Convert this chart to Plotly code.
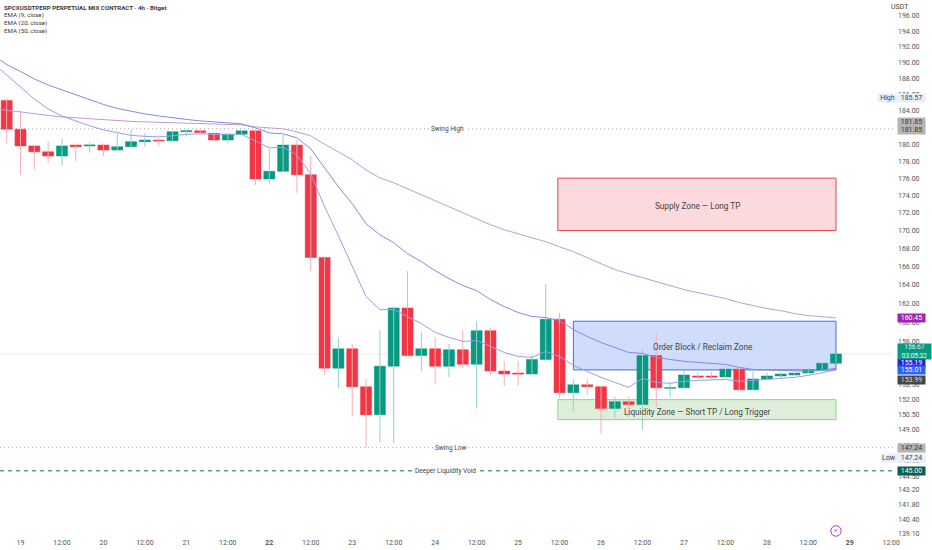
import math
import pandas as pd
import plotly.graph_objects as go

# 4h candles, 18 Dec 20:00 -> 28 Dec 20:00
open_ = [185.3, 181.8, 179.8, 179.1, 178.6, 179.9, 179.8, 179.9, 179.3, 179.7,
         180.3, 180.5, 180.4, 181.5, 181.6, 181.3, 180.5, 181.2, 181.6, 175.9,
         176.8, 179.9, 176.4, 167.0, 155.2, 157.2, 153.3, 150.5, 155.4, 161.5,
         156.5, 157.2, 155.4, 157.1, 155.6, 159.1, 154.9, 154.7, 154.6, 156.1,
         160.3, 152.7, 153.5, 153.3, 151.1, 151.8, 151.5, 156.5, 153.15, 153.2,
         154.4, 154.4, 154.3, 155.1, 153.0, 154.1, 154.4, 154.5, 154.7, 155.0, 155.7]
close = [181.8, 179.8, 179.1, 178.6, 179.8, 179.7, 179.9, 179.3, 179.7, 180.3,
         180.5, 180.4, 181.5, 181.6, 181.4, 180.5, 181.2, 181.6, 175.9, 176.8,
         179.9, 176.4, 167.0, 155.2, 157.2, 153.3, 150.5, 155.4, 161.5, 156.5,
         157.2, 155.4, 157.1, 155.6, 159.1, 154.9, 154.6, 154.6, 156.1, 160.3,
         152.7, 153.5, 153.3, 151.1, 151.8, 151.5, 156.5, 153.2, 153.2, 154.5,
         154.3, 154.3, 155.1, 153.0, 154.1, 154.4, 154.6, 154.7, 155.0, 155.7, 156.67]
high = [185.57, 184.1, 179.9, 180.3, 180.7, 180.1, 180.2, 180.1, 181.3, 181.7,
        181.3, 180.7, 181.55, 181.85, 181.8, 181.4, 181.25, 181.75, 181.85, 179.4,
        181.1, 180.5, 178.6, 167.2, 158.4, 157.7, 154.1, 159.2, 161.65, 165.5,
        159.0, 158.4, 157.7, 159.2, 160.1, 159.4, 155.9, 155.9, 156.6, 164.1,
        161.0, 154.1, 154.1, 153.4, 152.3, 152.3, 157.1, 158.8, 153.8, 154.9,
        154.8, 154.8, 155.4, 155.2, 154.9, 154.7, 154.8, 154.75, 155.3, 155.75, 156.7]
low = [180.1, 176.4, 177.0, 177.8, 177.4, 178.0, 179.0, 178.6, 179.3, 179.6,
       179.7, 179.8, 180.4, 180.9, 181.4, 180.4, 180.1, 181.2, 175.2, 175.4,
       176.8, 174.3, 165.5, 154.5, 153.2, 150.3, 147.24, 147.75, 147.65, 156.5,
       154.9, 153.6, 154.3, 155.2, 151.1, 154.5, 153.4, 153.4, 154.6, 155.9,
       152.2, 150.8, 152.5, 148.6, 150.2, 150.2, 149.0, 151.3, 152.2, 153.2,
       154.1, 154.1, 154.3, 153.0, 153.0, 154.0, 154.2, 154.45, 154.7, 155.0, 155.7]

# EMAs start one candle before the first visible one
ema9 = [189.94, 188.44, 186.95, 185.47, 184.25, 183.4, 182.8, 182.2, 181.72, 181.36,
        181.06, 180.94, 180.88, 181.0, 181.18, 181.24, 181.18, 181.12, 181.18, 180.4,
        179.57, 179.63, 178.74, 176.51, 172.71, 169.42, 166.1, 162.73, 161.34, 161.34,
        160.6, 159.86, 158.91, 158.39, 157.97, 158.07, 157.45, 156.82, 156.41, 156.31,
        156.93, 156.41, 155.48, 154.87, 154.26, 153.75, 153.24, 154.15, 153.75, 153.65,
        153.85, 153.95, 154.0, 154.05, 153.85, 153.95, 154.0, 154.15, 154.26, 154.46,
        154.76, 155.01]
ema20 = [190.95, 189.75, 188.88, 187.95, 187.2, 186.58, 185.97, 185.35, 184.8, 184.31,
         183.95, 183.65, 183.4, 183.16, 182.98, 182.8, 182.68, 182.56, 182.44, 181.96,
         181.36, 181.24, 180.76, 179.45, 177.21, 175.0, 173.05, 170.77, 169.53, 168.64,
         167.42, 166.54, 165.55, 164.68, 163.92, 163.38, 162.41, 161.66, 161.02, 160.6,
         160.49, 160.17, 159.22, 158.49, 157.86, 157.34, 156.82, 156.72, 156.31, 156.1,
         155.9, 155.79, 155.69, 155.59, 155.28, 155.07, 155.02, 154.97, 154.92, 154.87,
         154.97, 155.19]
ema50 = [184.38, 184.07, 183.89, 183.65, 183.46, 183.28, 183.16, 183.04, 182.92, 182.8,
         182.74, 182.68, 182.62, 182.56, 182.5, 182.44, 182.38, 182.32, 182.32, 182.08,
         181.96, 181.84, 181.48, 181.0, 180.0, 179.1, 178.15, 176.95, 176.04, 175.46,
         174.77, 174.08, 173.39, 172.71, 172.02, 171.34, 170.66, 170.09, 169.64, 169.2,
         168.75, 168.19, 167.64, 166.98, 166.32, 165.66, 165.22, 164.79, 164.35, 163.92,
         163.49, 163.16, 162.84, 162.52, 162.09, 161.77, 161.45, 161.23, 160.91, 160.7,
         160.6, 160.45]

price_ticks = [196, 194, 192, 190, 188, 186, 184, 182, 180, 178, 176, 174, 172, 170, 168,
               166, 164, 162, 160, 158, 156.5, 155, 153.5, 152, 150.5, 149, 147.5, 146,
               144.5, 143.2, 141.8, 140.4, 139.1]
date_ticks = ["2025-12-19", "2025-12-19 12:00", "2025-12-20", "2025-12-20 12:00",
              "2025-12-21", "2025-12-21 12:00", "2025-12-22", "2025-12-22 12:00",
              "2025-12-23", "2025-12-23 12:00", "2025-12-24", "2025-12-24 12:00",
              "2025-12-25", "2025-12-25 12:00", "2025-12-26", "2025-12-26 12:00",
              "2025-12-27", "2025-12-27 12:00", "2025-12-28", "2025-12-28 12:00",
              "2025-12-29", "2025-12-29 12:00"]
date_labels = ["19", "12:00", "20", "12:00", "21", "12:00", "<b>22</b>", "12:00", "23", "12:00",
               "24", "12:00", "25", "12:00", "26", "12:00", "27", "12:00", "28", "12:00",
               "<b>29</b>", "12:00"]

swing_high = 181.85
swing_low = 147.24
void_level = 145.0
last_price = 156.67

FONT = "Roboto"
GREEN = "#089981"
RED = "#f23645"

times = pd.date_range("2025-12-18 20:00", periods=len(open_), freq="4h")
ema_times = pd.date_range("2025-12-18 16:00", periods=len(ema9), freq="4h")

fig = go.Figure()


def wicks(up, color):
    xs, ys = [], []
    for t, o, h, l, c in zip(times, open_, high, low, close):
        if (c >= o) == up:
            xs += [t, t, None]
            ys += [l, h, None]
    fig.add_trace(go.Scatter(x=xs, y=ys, mode="lines", line=dict(color=color, width=1),
                             hoverinfo="skip", showlegend=False))


wicks(True, "#93d3c7")
wicks(False, "#f8aeb5")

# Bodies only, the wicks above are lighter than the bodies
fig.add_trace(go.Candlestick(
    x=times, open=open_, close=close,
    high=[max(o, c) for o, c in zip(open_, close)],
    low=[min(o, c) for o, c in zip(open_, close)],
    increasing=dict(line=dict(color=GREEN, width=0.5), fillcolor=GREEN),
    decreasing=dict(line=dict(color=RED, width=0.5), fillcolor=RED),
    showlegend=False,
))

for values, color in [(ema50, "#c49ad6"), (ema20, "#8589e4"), (ema9, "#9a9dec")]:
    fig.add_trace(go.Scatter(x=ema_times, y=values, mode="lines",
                             line=dict(color=color, width=1), showlegend=False))


def zone(x0, x1, y0, y1, fill, border):
    fig.add_shape(type="rect", x0=x0, x1=x1, y0=y0, y1=y1, xref="x", yref="y", layer="below",
                  fillcolor=fill, line=dict(color=border, width=1))


zone("2025-12-25 11:30", "2025-12-28 20:00", 170, 176, "#fbd9dc", "#e2474f")
zone("2025-12-25 16:00", "2025-12-28 20:00", 155.02, 160.1, "#cfdcfb", "#3f6ee6")
zone("2025-12-25 11:30", "2025-12-28 20:00", 150, 152, "#deefd9", "#93cf96")

fig.add_shape(type="line", xref="paper", x0=0, x1=1, yref="y", y0=last_price, y1=last_price,
              layer="below", line=dict(color="#ececec", width=1))
for level, style in [(swing_high, dict(color="#a8a8a8", width=1, dash="1px,3px")),
                     (swing_low, dict(color="#a8a8a8", width=1, dash="1px,3px")),
                     (void_level, dict(color="#5a9f90", width=1.5, dash="4px,4px"))]:
    fig.add_shape(type="line", xref="paper", x0=0, x1=1, yref="y", y0=level, y1=level,
                  layer="below", line=style)

# lightning badge under the last candle
fig.add_shape(type="circle", xref="x", yref="paper", x0="2025-12-28 18:30", x1="2025-12-28 21:30",
              y0=0.0015, y1=0.021, line=dict(color="#a63bc4", width=1), fillcolor="white")


def note(x, price, text, size=7, bg=None, color="#444444", family=FONT):
    fig.add_annotation(x=x, y=math.log10(price), xref="x", yref="y", text=text, showarrow=False,
                       bgcolor=bg, font=dict(family=family, size=size, color=color))


note("2025-12-24 03:40", swing_high, "Swing High", size=6.5, bg="white")
note("2025-12-24 04:30", swing_low, "Swing Low", size=6.5, bg="white")
note("2025-12-24 03:00", void_level, "Deeper Liquidity Void", size=6.5, bg="white")
note("2025-12-27 04:00", 172.8, "Supply Zone — Long TP", size=8.2)
note("2025-12-27 05:30", 157.4, "Order Block / Reclaim Zone", size=8.2)
note("2025-12-27 04:00", 150.75, "Liquidity Zone — Short TP / Long Trigger", size=8.2)
note("2025-12-28 20:00", 139.35, "⚡\ufe0e", size=7, color="#a63bc4", family="DejaVu Sans")


def price_tag(price, text, bg, color="white", width=26, size=7):
    fig.add_annotation(x=0.9995, y=math.log10(price), xref="paper", yref="y", xanchor="left", xshift=4,
                       text=text, showarrow=False, bgcolor=bg, width=width, height=7, borderpad=0.5,
                       font=dict(family=FONT, size=size, color=color))


price_tag(185.57, "185.57", "#e8eefb", "#444444")
price_tag(182.68, "181.85", "#b4b4b4", "#333333")
price_tag(181.72, "181.85", "#b4b4b4", "#333333")
price_tag(160.45, "160.45", "#9c27b0")
price_tag(155.75, "155.19", "#2a1fe0")
price_tag(154.97, "155.01", "#2962ff")
price_tag(153.95, "153.99", "#454545", "#dddddd")
price_tag(147.2, "147.24", "#b4b4b4", "#333333")
price_tag(146.2, "147.24", "#e8eefb", "#444444")
price_tag(void_level, "145.00", "#0a5e4d")

fig.add_annotation(x=0.9995, y=math.log10(156.9), xref="paper", yref="y", xanchor="left", xshift=4,
                   text="156.67<br>03:05:32", showarrow=False, bgcolor=GREEN, width=32, height=14,
                   borderpad=0.5, font=dict(family=FONT, size=6.5, color="#e8fff9"))

header = ["<b>SPCXUSDTPERP PERPETUAL MIX CONTRACT · 4h · Bitget</b>",
          "EMA (9, close)", "EMA (20, close)", "EMA (50, close)"]
for i, text in enumerate(header):
    fig.add_annotation(x=3 / 893, y=1 - (7.5 + 8 * i) / 537, xref="paper", yref="paper",
                       xanchor="left", yanchor="middle", text=text, showarrow=False, borderpad=0,
                       font=dict(family=FONT, size=6.2, color="#3a3a3a"))
fig.add_annotation(x=1.0202, y=1 - 7 / 537, xref="paper", yref="paper", yanchor="middle", text="USDT",
                   showarrow=False, font=dict(family=FONT, size=7, color="#444444"), bgcolor="white")
fig.add_annotation(x=0.9995, y=math.log10(185.57), xref="paper", yref="y", xanchor="right", xshift=5,
                   text="High", showarrow=False, bgcolor="#e8eefb", height=7, borderpad=0.5, width=18,
                   font=dict(family=FONT, size=7, color="#444444"))
fig.add_annotation(x=0.9995, y=math.log10(146.2), xref="paper", yref="y", xanchor="right", xshift=5,
                   text="Low", showarrow=False, bgcolor="#e8eefb", height=7, borderpad=0.5, width=15,
                   font=dict(family=FONT, size=7, color="#444444"))

fig.update_layout(
    width=932, height=550,
    margin=dict(l=0, r=39, t=0, b=13),
    paper_bgcolor="white", plot_bgcolor="white",
    boxgap=0.2, boxgroupgap=0,
    showlegend=False,
    font=dict(family=FONT, size=7, color="#555555"),
)
fig.update_xaxes(type="date", rangeslider_visible=False, showgrid=False, zeroline=False,
                 showline=False, ticks="", range=["2025-12-18 18:04", "2025-12-29 12:30"],
                 tickmode="array", tickvals=date_ticks, ticktext=date_labels, tickangle=0,
                 tickfont=dict(family=FONT, size=7, color="#555555"))
fig.update_yaxes(type="log", side="right", showgrid=False, zeroline=False, showline=False, ticks="",
                 range=[math.log10(138.79), math.log10(198.03)],
                 tickmode="array", tickvals=price_ticks, ticklabelstandoff=4,
                 ticktext=[f"{v:.2f}" for v in price_ticks],
                 tickfont=dict(family=FONT, size=7, color="#555555"))

# the page's default body margin would push the fixed-size figure off the window
fig.write_html("out.html", config=dict(displayModeBar=False),
               post_script="document.body.style.margin='0';")
